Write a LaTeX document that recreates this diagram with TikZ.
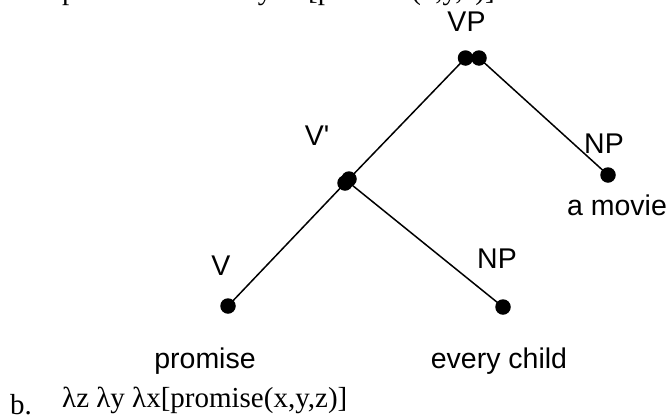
\documentclass[tikz,border=0pt]{standalone}
\usepackage{fontspec}
\setmainfont{Liberation Serif}
\newfontfamily\arialf{Liberation Sans}
\begin{document}
\begin{tikzpicture}[x=1pt,y=-1pt,
  lab/.style={font=\arialf\fontsize{28.5}{30}\selectfont, inner sep=0pt, anchor=base},
  serif/.style={font=\fontsize{29}{30}\selectfont, inner sep=0pt, anchor=base west},
  dot/.style={circle, fill=black, minimum size=15.5pt, inner sep=0pt},
  edge/.style={line width=1.5pt}]
\useasboundingbox (0,0) rectangle (669,418);
\clip (0,0) rectangle (669,418);
% cut-off line at the top
\node[serif] (topline) at (62,-1) {promise\hspace{54pt}λz λy λx[promise(x,y,z)]};
% edges
\coordinate (vpl) at (465.5,58);
\coordinate (vpr) at (479,58);
\coordinate (vbar) at (347,181);
\coordinate (npa) at (608,175);
\coordinate (vleaf) at (228,306);
\coordinate (npb) at (503,307);
\draw[edge] (vpl) -- (vbar);
\draw[edge] (vpr) -- (npa);
\draw[edge] (vbar) -- (vleaf);
\draw[edge] (vbar) -- (npb);
% dots
\node[dot] (vp1) at (vpl) {};
\node[dot] (vp2) at (vpr) {};
\node[dot] (vb1) at (345,183) {};
\node[dot] (vb2) at (349,179) {};
\node[dot] (np1) at (npa) {};
\node[dot] (v) at (vleaf) {};
\node[dot] (np2) at (npb) {};
% labels
\node[lab] (lvp) at (466.5,31) {VP};
\node[lab] (lvbar) at (317,145) {V'};
\node[lab] (lnpa) at (604,153) {NP};
\node[lab] (lmovie) at (617,215) {a movie};
\node[lab] (lv) at (221,275) {V};
\node[lab] (lnpb) at (497,268) {NP};
\node[lab] (lpromise) at (205,368) {promise};
\node[lab] (lchild) at (499,368) {every child};
% bottom line
\node[font=\fontsize{29}{30}\selectfont, inner sep=0pt, anchor=base west] (lb) at (10,414) {b.};
\node[serif] (formula) at (62,407) {λz λy λx[promise(x,y,z)]};
\end{tikzpicture}
\end{document}
